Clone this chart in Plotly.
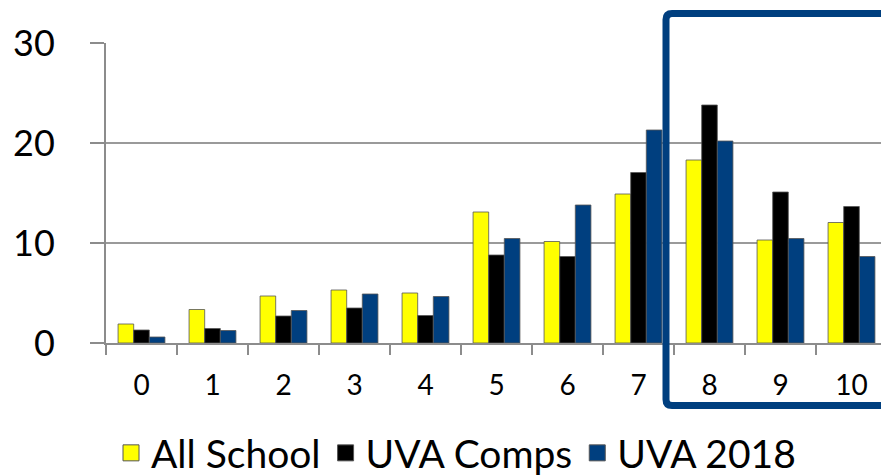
import plotly.graph_objects as go

categories = ["0", "1", "2", "3", "4", "5", "6", "7", "8", "9", "10"]
all_school = [1.9, 3.35, 4.7, 5.3, 5.0, 13.1, 10.15, 14.9, 18.3, 10.3, 12.05]
uva_comps = [1.3, 1.45, 2.7, 3.5, 2.75, 8.8, 8.65, 17.05, 23.8, 15.1, 13.65]
uva_2018 = [0.6, 1.25, 3.25, 4.9, 4.65, 10.45, 13.8, 21.3, 20.2, 10.45, 8.65]
y_ticks = [0, 10, 20, 30]

series = [
    ("All School", all_school, "#ffff00"),
    ("UVA Comps", uva_comps, "#000000"),
    ("UVA 2018", uva_2018, "#003f7f"),
]

fig = go.Figure()
for name, vals, col in series:
    fig.add_trace(go.Bar(
        x=categories, y=vals, name=name, legendgroup=name, showlegend=False,
        marker=dict(color=col, line=dict(color="#555555", width=0.8)),
    ))
# legend keys (square swatches like the reference)
for name, vals, col in series:
    fig.add_trace(go.Scatter(
        x=[None], y=[None], mode="markers", name=name, legendgroup=name,
        marker=dict(symbol="square", size=25, color=col,
                    line=dict(color="#555555", width=1)),
    ))

# page is offset by the 8px body margin
OFF = 8
W, H = 889 - OFF, 475 - OFF
L, R, T, B = 98, 2, 35, 132
pw, ph = W - L - R, H - T - B

def px(x):
    return (x - OFF - L) / pw

def py(y):
    return (H - B - (y - OFF)) / ph

# highlight box (rounded)
x0, x1, y0, y1 = px(666), px(900), py(405.5), py(13.5)
rx, ry = 6 / pw, 6 / ph
path = (f"M {x0+rx},{y1} L {x1},{y1} L {x1},{y0} L {x0+rx},{y0} "
        f"Q {x0},{y0} {x0},{y0+ry} L {x0},{y1-ry} Q {x0},{y1} {x0+rx},{y1} Z")

fig.update_layout(
    width=W, height=H,
    margin=dict(l=L, r=R, t=T, b=B, autoexpand=False),
    paper_bgcolor="white", plot_bgcolor="white",
    font=dict(family="Lato, Open Sans, sans-serif", color="#000000"),
    barmode="group", bargap=0.34, bargroupgap=0.0,
    showlegend=True,
    legend=dict(orientation="h", x=px(456), xanchor="center", y=py(453), yanchor="middle",
                font=dict(size=39), itemsizing="trace", traceorder="normal"),
    xaxis=dict(type="category", tickson="boundaries", ticks="outside", ticklen=10,
               tickcolor="#8c8c8c", tickwidth=2, showline=True, linecolor="#8c8c8c",
               linewidth=2, showgrid=False, tickfont=dict(size=28),
               ticklabelstandoff=16, automargin=False),
    yaxis=dict(range=[0, 30], tickvals=y_ticks, ticks="outside", ticklen=14,
               tickcolor="#8c8c8c", tickwidth=2, showline=True, linecolor="#8c8c8c",
               linewidth=2, showgrid=True, gridcolor="#9a9a9a", gridwidth=2,
               tickfont=dict(size=36), ticklabelstandoff=28, zeroline=False,
               automargin=False),
    shapes=[dict(type="path", path=path, xref="paper", yref="paper",
                 line=dict(color="#003f7f", width=7), fillcolor="rgba(0,0,0,0)")],
)

fig.write_html("out.html")
